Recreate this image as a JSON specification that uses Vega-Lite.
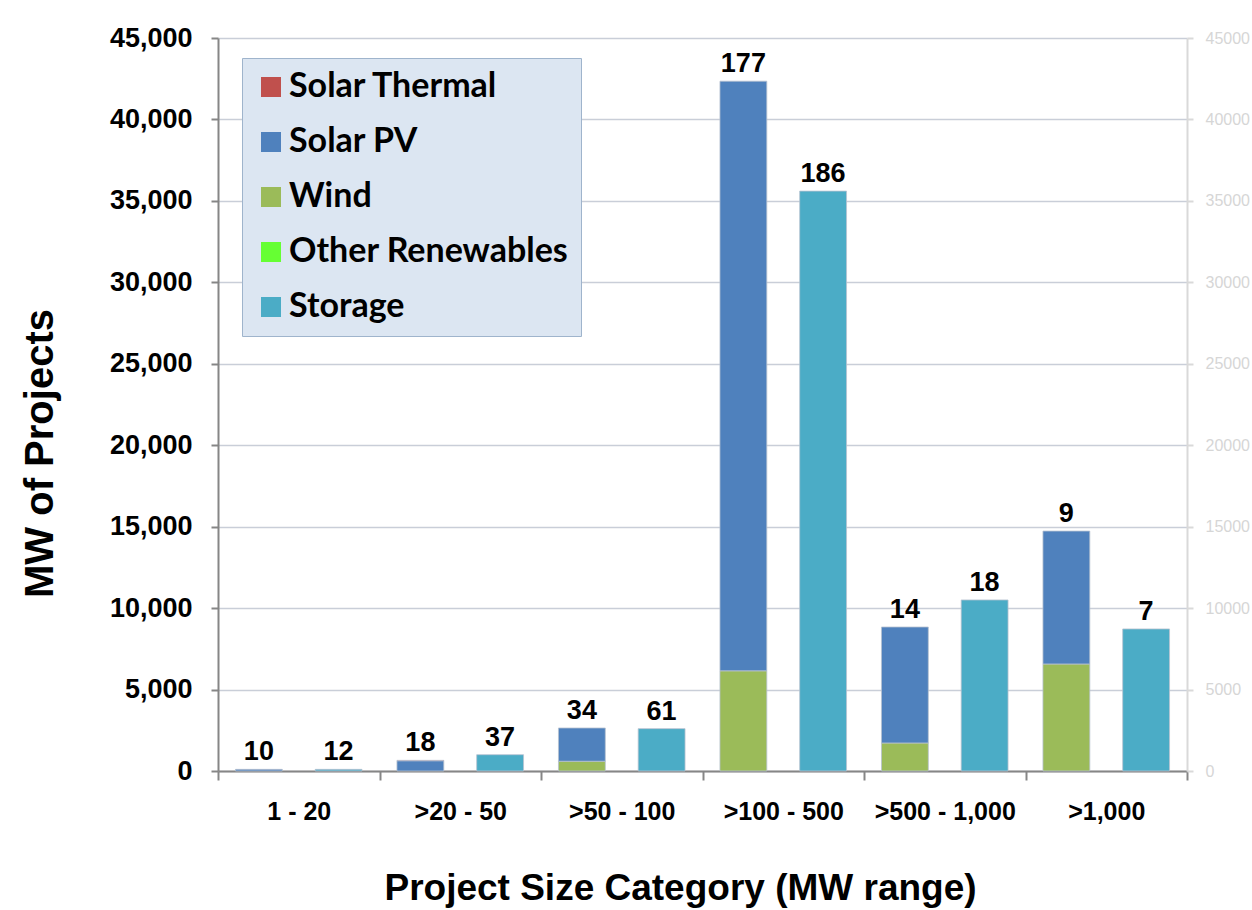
{
  "$schema": "https://vega.github.io/schema/vega-lite/v6.json",
  "width": 969,
  "height": 733,
  "autosize": {"type": "none"},
  "padding": {"left": 218, "top": 38, "right": 65, "bottom": 139},
  "background": "white",
  "config": {"view": {"stroke": null}, "font": "Liberation Sans"},
  "data": {
    "values": [
      {"cat": "1 - 20", "group": "Renewables", "type": "Solar PV", "seq": 3, "mw": 100, "count": 10},
      {"cat": ">20 - 50", "group": "Renewables", "type": "Solar PV", "seq": 3, "mw": 630, "count": 18},
      {"cat": ">20 - 50", "group": "Renewables", "type": "Solar Thermal", "seq": 4, "mw": 25, "count": 18},
      {"cat": ">50 - 100", "group": "Renewables", "type": "Wind", "seq": 1, "mw": 600, "count": 34},
      {"cat": ">50 - 100", "group": "Renewables", "type": "Solar PV", "seq": 3, "mw": 2040, "count": 34},
      {"cat": ">100 - 500", "group": "Renewables", "type": "Wind", "seq": 1, "mw": 6150, "count": 177},
      {"cat": ">100 - 500", "group": "Renewables", "type": "Solar PV", "seq": 3, "mw": 36200, "count": 177},
      {"cat": ">500 - 1,000", "group": "Renewables", "type": "Wind", "seq": 1, "mw": 1720, "count": 14},
      {"cat": ">500 - 1,000", "group": "Renewables", "type": "Solar PV", "seq": 3, "mw": 7120, "count": 14},
      {"cat": ">1,000", "group": "Renewables", "type": "Wind", "seq": 1, "mw": 6570, "count": 9},
      {"cat": ">1,000", "group": "Renewables", "type": "Solar PV", "seq": 3, "mw": 8160, "count": 9},
      {"cat": "1 - 20", "group": "Storage", "type": "Storage", "seq": 1, "mw": 100, "count": 12},
      {"cat": ">20 - 50", "group": "Storage", "type": "Storage", "seq": 1, "mw": 1000, "count": 37},
      {"cat": ">50 - 100", "group": "Storage", "type": "Storage", "seq": 1, "mw": 2600, "count": 61},
      {"cat": ">100 - 500", "group": "Storage", "type": "Storage", "seq": 1, "mw": 35600, "count": 186},
      {"cat": ">500 - 1,000", "group": "Storage", "type": "Storage", "seq": 1, "mw": 10500, "count": 18},
      {"cat": ">1,000", "group": "Storage", "type": "Storage", "seq": 1, "mw": 8720, "count": 7}
    ]
  },
  "encoding": {
    "x": {
      "field": "cat",
      "type": "nominal",
      "sort": ["1 - 20", ">20 - 50", ">50 - 100", ">100 - 500", ">500 - 1,000", ">1,000"],
      "scale": {"paddingInner": 0, "paddingOuter": 0},
      "axis": {
        "title": "Project Size Category (MW range)",
        "labelAngle": 0,
        "tickBand": "extent",
        "tickSize": 9,
        "tickColor": "#868686",
        "tickWidth": 2,
        "domainColor": "#868686",
        "domainWidth": 2,
        "labelFont": "Liberation Sans",
        "labelFontWeight": "bold",
        "labelFontSize": 25,
        "labelColor": "black",
        "labelPadding": 19,
        "titleFont": "Liberation Sans",
        "titleFontSize": 37,
        "titleFontWeight": "bold",
        "titleColor": "black",
        "titleBaseline": "middle",
        "titleAlign": "center",
        "titleX": 462,
        "titleY": 117,
        "grid": false
      }
    },
    "xOffset": {
      "field": "group",
      "type": "nominal",
      "sort": ["Renewables", "Storage"],
      "scale": {"paddingInner": 0.4125, "paddingOuter": 0.219}
    }
  },
  "layer": [
    {
      "mark": {"type": "bar", "stroke": "#b8c2d0", "strokeWidth": 0.8},
      "encoding": {
        "y": {
          "field": "mw",
          "type": "quantitative",
          "stack": "zero",
          "scale": {"domain": [0, 45000], "nice": false},
          "axis": {
            "orient": "left",
            "title": "MW of Projects",
            "values": [0, 5000, 10000, 15000, 20000, 25000, 30000, 35000, 40000, 45000],
            "format": ",d",
            "grid": true,
            "gridColor": "#c9ced8",
            "gridWidth": 1.5,
            "tickSize": 7,
            "tickColor": "#868686",
            "tickWidth": 2,
            "domainColor": "#868686",
            "domainWidth": 2,
            "labelFont": "Liberation Sans",
            "labelFontWeight": "bold",
            "labelFontSize": 27,
            "labelColor": "black",
            "labelPadding": 19,
            "titleFont": "Liberation Sans",
            "titleFontSize": 40,
            "titleFontWeight": "bold",
            "titleColor": "black",
            "titleBaseline": "middle",
            "titleX": -178,
            "titleY": 415
          }
        },
        "color": {
          "field": "type",
          "type": "nominal",
          "scale": {
            "domain": ["Solar Thermal", "Solar PV", "Wind", "Other Renewables", "Storage"],
            "range": ["#c0504d", "#4f81bd", "#9bbb59", "#66ff33", "#4bacc6"]
          },
          "legend": {
            "orient": "none",
            "legendX": 24,
            "legendY": 20,
            "title": null,
            "fillColor": "#dce6f2",
            "strokeColor": "#9fb4cc",
            "padding": 12,
            "symbolType": "square",
            "symbolSize": 400,
            "symbolStrokeWidth": 0,
            "labelFont": "Lato",
            "labelFontSize": 34,
            "labelFontWeight": "bold",
            "labelColor": "black",
            "labelLimit": 400,
            "labelOffset": 1,
            "rowPadding": 21,
            "encode": {"legend": {"update": {"strokeWidth": {"value": 2}}}}
          }
        },
        "order": {"field": "seq", "type": "quantitative"}
      }
    },
    {
      "mark": {"type": "text", "fontWeight": "bold", "fontSize": 27, "baseline": "alphabetic", "dy": -9, "color": "black", "font": "Liberation Sans"},
      "encoding": {
        "y": {
          "aggregate": "sum",
          "field": "mw",
          "type": "quantitative",
          "scale": {"domain": [0, 45000], "nice": false},
          "axis": {
            "orient": "right",
            "title": null,
            "values": [0, 5000, 10000, 15000, 20000, 25000, 30000, 35000, 40000, 45000],
            "format": "d",
            "grid": false,
            "tickSize": 6,
            "tickColor": "#d9d9d9",
            "tickWidth": 2,
            "domainColor": "#d9d9d9",
            "domainWidth": 2,
            "labelColor": "#d6d6d6",
            "labelFontSize": 16,
            "labelPadding": 12
          }
        },
        "text": {"aggregate": "max", "field": "count", "type": "quantitative"}
      }
    }
  ],
  "resolve": {"axis": {"y": "independent"}}
}
